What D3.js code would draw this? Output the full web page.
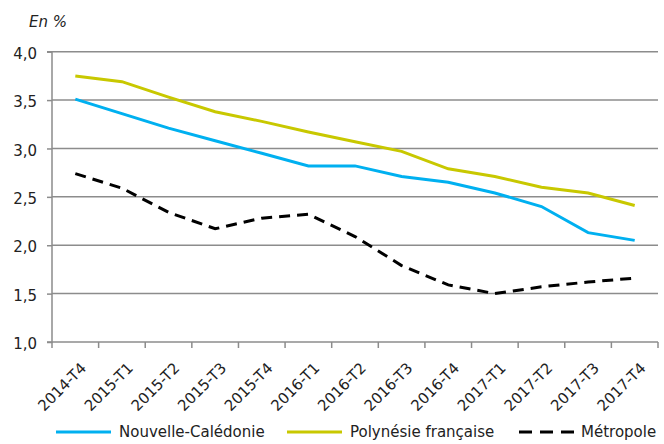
<!DOCTYPE html>
<html><head><meta charset="utf-8">
<script src="https://cdn.jsdelivr.net/npm/d3@7"></script>
<style>body{margin:0;background:#fff}svg{display:block}text{font-family:"DejaVu Sans",Verdana,sans-serif;fill:#222}</style>
</head><body><svg id="c" width="664" height="444"></svg>
<script>
const categories = ["2014-T4","2015-T1","2015-T2","2015-T3","2015-T4","2016-T1","2016-T2","2016-T3","2016-T4","2017-T1","2017-T2","2017-T3","2017-T4"];
const nouvelleCaledonie = [3.51,3.36,3.21,3.08,2.95,2.82,2.82,2.71,2.65,2.54,2.40,2.13,2.05];
const polynesie = [3.75,3.69,3.53,3.38,3.28,3.17,3.07,2.97,2.79,2.71,2.60,2.54,2.41];
const metropole = [2.74,2.59,2.34,2.17,2.28,2.32,2.09,1.79,1.59,1.50,1.57,1.62,1.66];
const yTicks = [1.0,1.5,2.0,2.5,3.0,3.5,4.0];
const series = [
  {name:"Nouvelle-Calédonie", values:nouvelleCaledonie, color:"#00B0F0", dash:null},
  {name:"Polynésie française", values:polynesie, color:"#C8C800", dash:null},
  {name:"Métropole", values:metropole, color:"#000000", dash:"11,7"}
];
(function(){
const svg = d3.select("#c");
const mLeft=52, mRight=658, mTop=51.7, mBottom=342;
const x = d3.scaleBand().domain(categories).range([mLeft,mRight]);
const y = d3.scaleLinear().domain([1,4]).range([mBottom,mTop]);
const fmt = v => d3.format(".1f")(v).replace(".",",");
const grey="#8c8c8c";
svg.append("g").selectAll("line").data(yTicks.filter(v=>v>1)).join("line")
  .attr("x1",mLeft).attr("x2",mRight).attr("y1",d=>y(d)).attr("y2",d=>y(d))
  .attr("stroke",grey).attr("stroke-width",1.5);
const ya = svg.append("g").attr("transform",`translate(${mLeft},0)`)
  .call(d3.axisLeft(y).tickValues(yTicks).tickFormat(fmt).tickSize(5).tickPadding(10));
ya.select(".domain").attr("stroke",grey).attr("stroke-width",1.5).attr("d",`M-5,${mTop}H0V${mBottom}H-5`);
ya.selectAll(".tick line").attr("stroke",grey).attr("stroke-width",1.5);
ya.selectAll(".tick text").attr("font-size",15).attr("dy","0.45em").attr("fill","#222").style("font-family","DejaVu Sans");
const xa = svg.append("g").attr("transform",`translate(0,${mBottom})`);
xa.append("line").attr("x1",mLeft).attr("x2",mRight).attr("stroke",grey).attr("stroke-width",1.5);
xa.selectAll("line.t").data(categories.concat(["__end"])).join("line").attr("class","t")
  .attr("x1",(d,i)=>mLeft+i*x.bandwidth()).attr("x2",(d,i)=>mLeft+i*x.bandwidth())
  .attr("y1",0).attr("y2",6).attr("stroke",grey).attr("stroke-width",1.5);
xa.selectAll("text").data(categories).join("text")
  .attr("transform",d=>`translate(${x(d)+x.bandwidth()/2+12},${27}) rotate(-45)`)
  .attr("text-anchor","end").attr("font-size",15).text(d=>d);
const line = d3.line().x((d,i)=>x(categories[i])+x.bandwidth()/2).y(d=>y(d));
series.forEach(s=>{
  svg.append("path").datum(s.values).attr("d",line).attr("fill","none")
    .attr("stroke",s.color).attr("stroke-width",3).attr("stroke-dasharray",s.dash);
});
svg.append("text").attr("x",29).attr("y",26.5).attr("font-size",15).attr("font-style","italic").text("En %");
const legX=[56,287,519];
series.forEach((s,i)=>{
  const g=svg.append("g").attr("transform",`translate(${legX[i]},432)`);
  g.append("line").attr("x1",0).attr("x2",55).attr("stroke",s.color).attr("stroke-width",3).attr("stroke-dasharray",s.dash?"13,8":null);
  g.append("text").attr("x",i==2?62:63).attr("y",5).attr("font-size",15).text(s.name);
});
})();
</script></body></html>
